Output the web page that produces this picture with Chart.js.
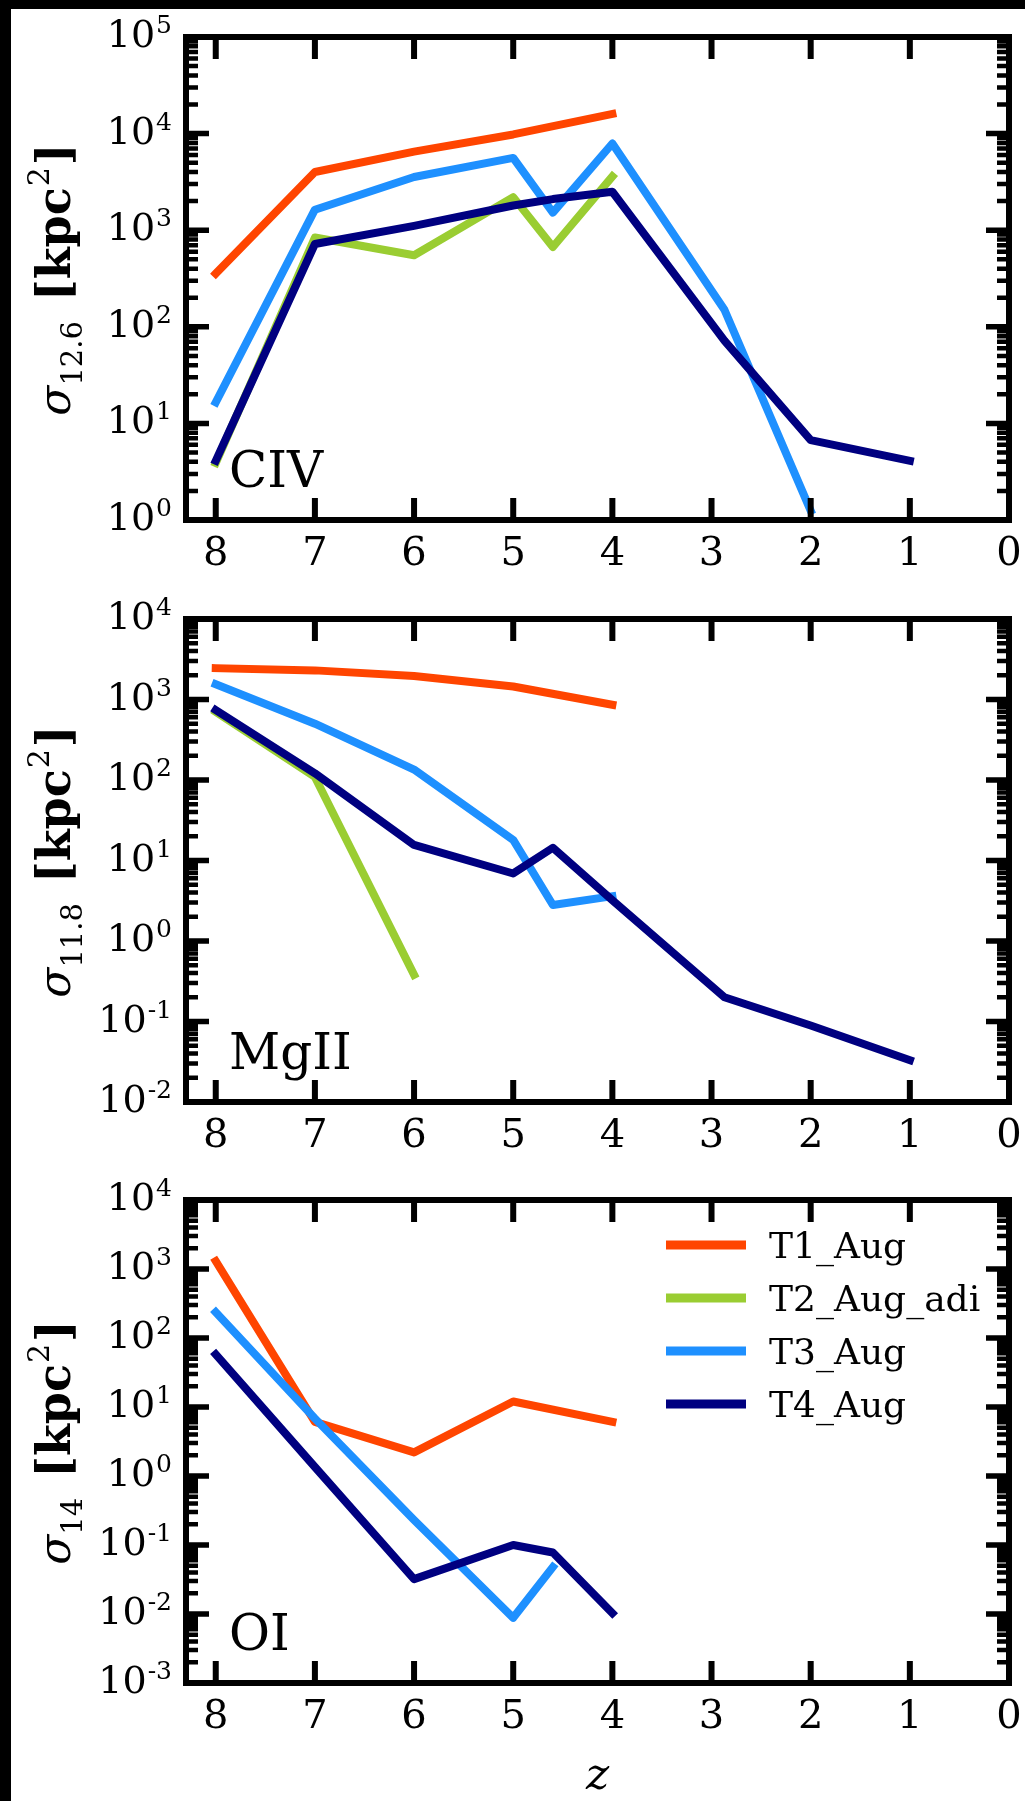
<!DOCTYPE html>
<html>
<head>
<meta charset="utf-8">
<script src="https://cdn.jsdelivr.net/npm/chart.js@4.4.1/dist/chart.umd.min.js"></script>
<style>
  html, body { margin: 0; padding: 0; background: #000; }
  body { width: 1025px; height: 1801px; position: relative; overflow: hidden; }
  #sheet { position: absolute; left: 11px; top: 9px; right: 0; bottom: 0; background: #fff; }
  canvas { position: absolute; left: 0; }
</style>
</head>
<body>
<div id="sheet"></div>
<canvas id="panel-civ" width="1025" height="575" style="top:0px"></canvas>
<canvas id="panel-mgii" width="1025" height="580" style="top:575px"></canvas>
<canvas id="panel-oi" width="1025" height="646" style="top:1155px"></canvas>
<script>
// snapshot redshifts shared by every run
const redshift = [8, 7, 6, 5, 4.6, 4, 2.87, 2, 1];
const zTicks = [8, 7, 6, 5, 4, 3, 2, 1, 0];

const runNames = ['T1_Aug', 'T2_Aug_adi', 'T3_Aug', 'T4_Aug'];
const runColors = ['#ff4500', '#9acd32', '#1e90ff', '#000080'];

// CIV cross section, sigma_12.6 [kpc^2]
const civT1 = [355, 4000, 6500, 9800, null, 16000, null, null, null];
const civT2 = [3.9, 840, 550, 2200, 670, 3600, null, null, null];
const civT3 = [16.5, 1630, 3550, 5600, 1520, 7900, 150, 1.25, null];
const civT4 = [4.1, 720, 1110, 1800, 2100, 2500, 72, 6.7, 4.1];
const civDecades = [0, 1, 2, 3, 4, 5];

// MgII cross section, sigma_11.8 [kpc^2]
const mgiiT1 = [2450, 2300, 1960, 1450, null, 860, null, null, null];
const mgiiT2 = [700, 109, 0.38, null, null, null, null, null, null];
const mgiiT3 = [1550, 500, 135, 18, 2.8, 3.6, null, null, null];
const mgiiT4 = [740, 121, 15.6, 6.9, 14.4, 3.2, 0.2, 0.089, 0.033];
const mgiiDecades = [-2, -1, 0, 1, 2, 3, 4];

// OI cross section, sigma_14 [kpc^2]
const oiT1 = [1300, 6.1, 2.2, 12, null, 6.1, null, null, null];
const oiT2 = [null, null, null, null, null, null, null, null, null];
const oiT3 = [237, 6.8, 0.23, 0.0088, 0.048, null, null, null, null];
const oiT4 = [58, 1.35, 0.032, 0.1, 0.078, 0.0103, null, null, null];
const oiDecades = [-3, -2, -1, 0, 1, 2, 3, 4];

const SERIF = "'DejaVu Serif'";

function toPoints(values) {
    return redshift
        .map((z, i) => ({ x: z, y: values[i] }))
        .filter(p => p.y !== null);
}

function buildDatasets(series) {
    return series.map((values, i) => ({
        label: runNames[i],
        data: toPoints(values),
        borderColor: runColors[i],
        backgroundColor: runColors[i],
        borderWidth: 8,
        borderCapStyle: 'square',
        borderJoinStyle: 'round',
        pointRadius: 0,
        tension: 0,
        order: series.length - i // last run painted on top
    }));
}

// "10^n" tick label, right aligned
function drawPowerLabel(ctx, exp, xRight, y) {
    ctx.font = `38px ${SERIF}`;
    const wb = ctx.measureText('10').width;
    ctx.font = `25px ${SERIF}`;
    const sup = String(exp);
    const ws = ctx.measureText(sup).width;
    const x0 = xRight - ws - wb - 1;
    ctx.textAlign = 'left';
    ctx.textBaseline = 'alphabetic';
    ctx.font = `38px ${SERIF}`;
    ctx.fillText('10', x0, y + 10);
    ctx.font = `25px ${SERIF}`;
    ctx.fillText(sup, x0 + wb + 1, y - 4);
}

// rotated "sigma_sub [kpc^2]" axis title
function drawYTitle(ctx, x, cy, sub) {
    const parts = [
        { t: '\u03c3', font: `italic 44px ${SERIF}`, dy: 0, after: 0 },
        { t: sub, font: `29px ${SERIF}`, dy: 12, after: 20 },
        { t: '[kpc', font: `bold 46px ${SERIF}`, dy: 0, after: 1 },
        { t: '2', font: `30px ${SERIF}`, dy: -21, after: 2 },
        { t: ']', font: `bold 46px ${SERIF}`, dy: 0, after: 0 }
    ];
    let total = 0;
    parts.forEach(p => {
        ctx.font = p.font;
        p.w = ctx.measureText(p.t).width;
        total += p.w + p.after;
    });
    ctx.save();
    ctx.translate(x, cy);
    ctx.rotate(-Math.PI / 2);
    ctx.textAlign = 'left';
    ctx.textBaseline = 'alphabetic';
    let cur = -total / 2;
    parts.forEach(p => {
        ctx.font = p.font;
        ctx.fillText(p.t, cur, p.dy);
        cur += p.w + p.after;
    });
    ctx.restore();
}

// spines, inward ticks, labels, panel name and optional legend
const framePlugin = {
    id: 'frame',
    afterDatasetsDraw(chart, args, opts) {
        const ctx = chart.ctx;
        const { left, right, top, bottom } = chart.chartArea;
        const xs = chart.scales.x;
        const ys = chart.scales.y;
        ctx.save();
        ctx.fillStyle = '#000';
        ctx.strokeStyle = '#000';
        ctx.lineCap = 'butt';

        // x ticks on top and bottom
        ctx.lineWidth = 6;
        zTicks.forEach(z => {
            const px = xs.getPixelForValue(z);
            ctx.beginPath();
            ctx.moveTo(px, bottom); ctx.lineTo(px, bottom - 22);
            ctx.moveTo(px, top); ctx.lineTo(px, top + 22);
            ctx.stroke();
        });

        // minor log ticks on both sides
        ctx.lineWidth = 4.5;
        opts.decades.slice(0, -1).forEach(d => {
            for (let m = 2; m <= 9; m++) {
                const py = ys.getPixelForValue(m * Math.pow(10, d));
                ctx.beginPath();
                ctx.moveTo(left, py); ctx.lineTo(left + 12, py);
                ctx.moveTo(right, py); ctx.lineTo(right - 12, py);
                ctx.stroke();
            }
        });

        // major log ticks
        ctx.lineWidth = 5.5;
        opts.decades.forEach(d => {
            const py = ys.getPixelForValue(Math.pow(10, d));
            ctx.beginPath();
            ctx.moveTo(left, py); ctx.lineTo(left + 23, py);
            ctx.moveTo(right, py); ctx.lineTo(right - 23, py);
            ctx.stroke();
        });

        // frame
        ctx.lineWidth = 6;
        ctx.lineJoin = 'miter';
        ctx.strokeRect(left, top, right - left, bottom - top);

        // tick labels
        opts.decades.forEach(d => {
            drawPowerLabel(ctx, d, left - 14, ys.getPixelForValue(Math.pow(10, d)));
        });
        ctx.font = `40px ${SERIF}`;
        ctx.textAlign = 'center';
        ctx.textBaseline = 'alphabetic';
        zTicks.forEach(z => {
            ctx.fillText(String(z), xs.getPixelForValue(z), bottom + 45);
        });

        drawYTitle(ctx, 70, (top + bottom) / 2 + 1, opts.sub);

        // ion name inside the panel
        ctx.font = `50px ${SERIF}`;
        ctx.textAlign = 'left';
        ctx.fillText(opts.ion, left + 43, bottom - 33);

        if (opts.xTitle) {
            ctx.font = `italic 44px ${SERIF}`;
            ctx.textAlign = 'center';
            ctx.fillText('z', (left + right) / 2, bottom + 106);
        }

        if (opts.legend) {
            chart.data.datasets.forEach((ds, i) => {
                const ly = top + 45 + i * 53;
                ctx.strokeStyle = ds.borderColor;
                ctx.lineWidth = 9;
                ctx.beginPath();
                ctx.moveTo(666, ly); ctx.lineTo(746, ly);
                ctx.stroke();
                ctx.fillStyle = '#000';
                ctx.font = `36px ${SERIF}`;
                ctx.textAlign = 'left';
                ctx.fillText(ds.label, 769, ly + 13);
            });
        }
        ctx.restore();
    }
};

function makePanel(canvasId, series, decades, padTop, padBottom, frame) {
    const canvas = document.getElementById(canvasId);
    return new Chart(canvas.getContext('2d'), {
        type: 'line',
        data: { datasets: buildDatasets(series) },
        options: {
            responsive: false,
            animation: false,
            devicePixelRatio: 1,
            layout: { padding: { left: 186, right: 16, top: padTop, bottom: padBottom } },
            plugins: {
                legend: { display: false },
                tooltip: { enabled: false },
                frame: Object.assign({ decades }, frame)
            },
            scales: {
                x: { type: 'linear', min: 0, max: 8.3, reverse: true, display: false },
                y: {
                    type: 'logarithmic',
                    min: Math.pow(10, decades[0]),
                    max: Math.pow(10, decades[decades.length - 1]),
                    display: false
                }
            }
        },
        plugins: [framePlugin]
    });
}

makePanel('panel-civ', [civT1, civT2, civT3, civT4], civDecades, 37, 55,
    { sub: '12.6', ion: 'CIV' });
makePanel('panel-mgii', [mgiiT1, mgiiT2, mgiiT3, mgiiT4], mgiiDecades, 44, 53,
    { sub: '11.8', ion: 'MgII' });
makePanel('panel-oi', [oiT1, oiT2, oiT3, oiT4], oiDecades, 45, 118,
    { sub: '14', ion: 'OI', legend: true, xTitle: true });
</script>
</body>
</html>
